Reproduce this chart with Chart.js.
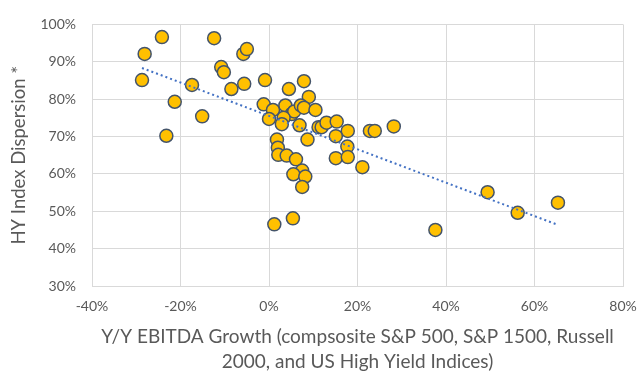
<!DOCTYPE html>
<html>
<head>
<meta charset="utf-8">
<script src="https://cdn.jsdelivr.net/npm/chart.js@4/dist/chart.umd.min.js"></script>
<style>
  html, body { margin: 0; padding: 0; background: #fff; }
  #wrap { width: 639px; height: 374px; }
</style>
</head>
<body>
<div id="wrap"><canvas id="myChart" width="639" height="374"></canvas></div>
<script>
// Y/Y EBITDA growth (%) and HY index dispersion (%)
const growth = [
  -24.2, -28.1, -28.7, -21.3, -17.4, -15.1, -23.2, -12.4, -10.8, -10.2,
  -8.5, -5.8, -5.0, -5.6, -0.9, 4.5, 7.9, 9.0, -1.2, 0.9,
  3.7, 5.1, 5.7, 7.2, 7.9, 10.5, 0.0, 3.3, 2.9, 6.9,
  11.2, 11.9, 13.0, 15.3, 17.8, 15.1, 8.7, 1.8, 2.0, 2.1,
  4.0, 6.1, 17.7, 15.1, 17.8, 21.1, 7.5, 5.5, 8.2, 7.5,
  5.4, 1.2, 22.8, 23.9, 28.2, 37.6, 49.4, 56.2, 65.3
];
const dispersion = [
  96.6, 92.1, 85.1, 79.3, 83.8, 75.4, 70.2, 96.3, 88.6, 87.2,
  82.7, 92.1, 93.4, 84.1, 85.1, 82.7, 84.8, 80.6, 78.6, 77.1,
  78.3, 76.0, 76.7, 78.3, 77.7, 77.1, 74.7, 75.0, 73.3, 73.0,
  72.5, 72.5, 73.7, 74.0, 71.5, 70.1, 69.2, 69.2, 67.0, 65.1,
  64.9, 63.9, 67.3, 64.2, 64.5, 61.8, 60.9, 59.9, 59.3, 56.5,
  48.1, 46.5, 71.5, 71.5, 72.7, 45.0, 55.1, 49.6, 52.3
];
const xTicks = [-40, -20, 0, 20, 40, 60, 80];
const yTicks = [30, 40, 50, 60, 70, 80, 90, 100];

const points = growth.map((g, i) => ({ x: g, y: dispersion[i] }));

// linear trendline (least squares) over the data range
const n = growth.length;
const mx = growth.reduce((a, b) => a + b, 0) / n;
const my = dispersion.reduce((a, b) => a + b, 0) / n;
let sxy = 0, sxx = 0;
for (let i = 0; i < n; i++) {
  sxy += (growth[i] - mx) * (dispersion[i] - my);
  sxx += (growth[i] - mx) * (growth[i] - mx);
}
const slope = sxy / sxx;
const icept = my - slope * mx;
const xMin = Math.min(...growth), xMax = Math.max(...growth);
const trend = [
  { x: xMin, y: icept + slope * xMin },
  { x: xMax, y: icept + slope * xMax }
];

const grey = '#595959';
const ctx = document.getElementById('myChart');

new Chart(ctx, {
  type: 'scatter',
  data: {
    datasets: [
      {
        label: 'Trend',
        type: 'line',
        data: trend,
        borderColor: '#4472C4',
        borderWidth: 2,
        borderDash: [2, 3],
        pointRadius: 0,
        fill: false
      },
      {
        label: 'HY Index Dispersion',
        data: points,
        backgroundColor: '#FFC000',
        borderColor: '#44546A',
        borderWidth: 1.5,
        pointRadius: 6.5,
        pointHoverRadius: 6.5
      }
    ]
  },
  options: {
    responsive: false,
    animation: false,
    layout: { padding: { top: 18, right: 0, left: 0, bottom: 0 } },
    plugins: {
      legend: { display: false },
      tooltip: { enabled: false }
    },
    scales: {
      x: {
        type: 'linear',
        min: -40,
        max: 80,
        afterBuildTicks: (axis) => { axis.ticks = xTicks.map(v => ({ value: v })); },
        afterFit: (axis) => {
          axis.height = 88;
          axis.paddingLeft = 0;
          axis.paddingRight = 16;
        },
        grid: { color: '#D9D9D9', lineWidth: 1, drawTicks: false },
        border: { color: '#D9D9D9' },
        ticks: {
          color: grey,
          padding: 12,
          font: { family: 'Lato', size: 14 },
          callback: (v) => v + '%'
        },
        title: {
          display: true,
          text: ['Y/Y EBITDA Growth (compsosite S&P 500, S&P 1500, Russell',
                 '2000, and US High Yield Indices)'],
          color: grey,
          font: { family: 'Lato', size: 19, lineHeight: 1.3 },
          padding: { top: 2, bottom: 0 }
        }
      },
      y: {
        min: 30,
        max: 100,
        afterBuildTicks: (axis) => { axis.ticks = yTicks.map(v => ({ value: v })); },
        afterFit: (axis) => { axis.width = 92; },
        grid: { color: '#D9D9D9', lineWidth: 1, drawTicks: false },
        border: { color: '#D9D9D9' },
        ticks: {
          color: grey,
          padding: 16,
          font: { family: 'Lato', size: 14 },
          callback: (v) => v + '%'
        },
        title: {
          display: true,
          text: 'HY Index Dispersion *',
          color: grey,
          font: { family: 'Lato', size: 18.5 },
          padding: { top: 8, bottom: 0 }
        }
      }
    }
  }
});
</script>
</body>
</html>
